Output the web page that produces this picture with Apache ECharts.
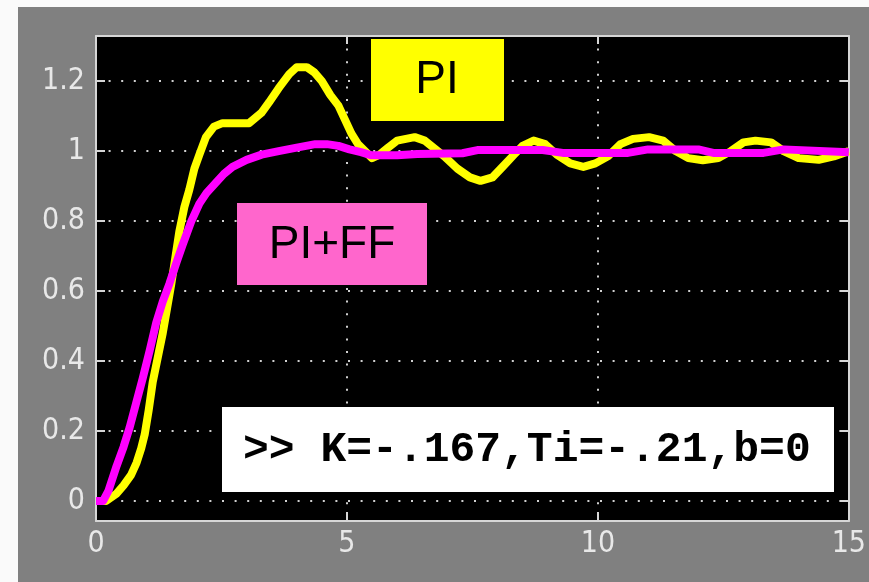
<!DOCTYPE html>
<html>
<head>
<meta charset="utf-8">
<script src="https://cdn.jsdelivr.net/npm/echarts@6/dist/echarts.min.js"></script>
<style>
html,body{margin:0;padding:0;background:#fafafa;width:869px;height:582px;overflow:hidden;}
#panel{position:absolute;left:18px;top:7px;width:851px;height:575px;background:#808080;}
</style>
</head>
<body>
<div id="panel"></div>
<script>
// x (time) ticks and y ticks
const xTicks = [0, 5, 10, 15];
const yTicks = [0, 0.2, 0.4, 0.6, 0.8, 1, 1.2];

// PI response (yellow)
const piTime  = [0, 0.2, 0.4, 0.55, 0.7, 0.81, 0.9, 0.97, 1.05, 1.13, 1.23, 1.33, 1.5, 1.66, 1.76, 1.86, 1.96, 2.06, 2.19, 2.35, 2.52, 3.05, 3.3, 3.45, 3.64, 3.85, 4.0, 4.2, 4.35, 4.5, 4.67, 4.83, 4.96, 5.09, 5.22, 5.36, 5.5, 5.65, 5.82, 6.0, 6.35, 6.55, 6.81, 6.94, 7.2, 7.45, 7.66, 7.9, 8.1, 8.33, 8.5, 8.72, 8.95, 9.18, 9.45, 9.71, 9.95, 10.2, 10.45, 10.7, 11.02, 11.3, 11.55, 11.8, 12.09, 12.4, 12.65, 12.9, 13.14, 13.45, 13.7, 14.0, 14.4, 14.7, 15.0];
const piValue = [0, 0, 0.02, 0.045, 0.075, 0.11, 0.15, 0.19, 0.26, 0.34, 0.41, 0.48, 0.62, 0.77, 0.84, 0.89, 0.95, 0.99, 1.04, 1.07, 1.08, 1.08, 1.11, 1.14, 1.18, 1.22, 1.24, 1.24, 1.225, 1.2, 1.16, 1.13, 1.09, 1.05, 1.02, 1.0, 0.98, 0.99, 1.01, 1.03, 1.04, 1.03, 1.0, 0.985, 0.95, 0.925, 0.915, 0.925, 0.955, 0.99, 1.015, 1.03, 1.02, 0.99, 0.965, 0.955, 0.965, 0.985, 1.02, 1.035, 1.04, 1.03, 1.0, 0.98, 0.974, 0.98, 1.0, 1.025, 1.03, 1.025, 1.0, 0.98, 0.975, 0.985, 1.0];

// PI+FF response (magenta)
const ffTime  = [0, 0.14, 0.25, 0.41, 0.55, 0.67, 0.8, 0.93, 1.07, 1.2, 1.33, 1.46, 1.6, 1.72, 1.9, 2.06, 2.2, 2.39, 2.55, 2.72, 3.0, 3.3, 3.64, 4.0, 4.37, 4.6, 4.83, 5.05, 5.28, 5.49, 6.0, 6.4, 7.3, 7.6, 8.9, 9.3, 10.6, 11.0, 12.0, 12.3, 13.3, 13.7, 15.0];
const ffValue = [0, 0, 0.03, 0.10, 0.155, 0.21, 0.28, 0.35, 0.43, 0.51, 0.57, 0.62, 0.68, 0.73, 0.80, 0.85, 0.88, 0.91, 0.935, 0.955, 0.975, 0.99, 1.0, 1.01, 1.02, 1.02, 1.015, 1.005, 0.997, 0.988, 0.988, 0.992, 0.994, 1.003, 1.003, 0.995, 0.995, 1.005, 1.005, 0.995, 0.995, 1.005, 0.997];

const piData = piTime.map((t, i) => [t, piValue[i]]);
const ffData = ffTime.map((t, i) => [t, ffValue[i]]);

const frame = '#d6d6d6';
const labelFont = "'DejaVu Sans Condensed', 'Liberation Sans Narrow', 'DejaVu Sans', sans-serif";

const chart = echarts.init(document.getElementById('panel'), null, {renderer: 'canvas'});
chart.setOption({
  animation: false,
  backgroundColor: '#808080',
  grid: {left: 78, top: 29, width: 758, height: 485, show: true, backgroundColor: '#000', borderWidth: 0},
  xAxis: [
    {
      type: 'value', min: xTicks[0], max: xTicks[xTicks.length - 1], interval: 5, position: 'bottom',
      axisLine: {show: true, onZero: false, lineStyle: {color: frame, width: 2}},
      axisTick: {show: true, inside: true, length: 9, lineStyle: {color: frame, width: 2}},
      axisLabel: {color: '#e8e8e8', fontSize: 30, fontFamily: labelFont, margin: 8},
      splitLine: {show: true, lineStyle: {color: '#d0d0d0', width: 2, type: [2, 10.6]}}
    },
    {
      type: 'value', min: xTicks[0], max: xTicks[xTicks.length - 1], interval: 5, position: 'top',
      axisLine: {show: true, onZero: false, lineStyle: {color: frame, width: 2}},
      axisTick: {show: true, inside: true, length: 8, lineStyle: {color: frame, width: 2}},
      axisLabel: {show: false},
      splitLine: {show: false}
    }
  ],
  yAxis: [
    {
      type: 'value', min: -0.057, max: 1.329, splitNumber: 7, position: 'left',
      axisLine: {show: true, onZero: false, lineStyle: {color: frame, width: 2}},
      axisTick: {show: true, inside: true, length: 9, lineStyle: {color: frame, width: 2}},
      axisLabel: {color: '#e8e8e8', fontSize: 30, fontFamily: labelFont, margin: 11, showMinLabel: false, showMaxLabel: false,
        formatter: v => (yTicks.some(t => Math.abs(t - v) < 1e-6) ? String(+v.toFixed(1)) : '')},
      splitLine: {show: true, lineStyle: {color: '#d0d0d0', width: 2, type: [2, 10.6]}}
    },
    {
      type: 'value', min: -0.057, max: 1.329, splitNumber: 7, position: 'right',
      axisLine: {show: true, onZero: false, lineStyle: {color: frame, width: 2}},
      axisTick: {show: true, inside: true, length: 9, lineStyle: {color: frame, width: 2}},
      axisLabel: {show: false},
      splitLine: {show: false}
    }
  ],
  series: [
    {
      name: 'PI', type: 'line', data: piData, xAxisIndex: 0, yAxisIndex: 0,
      showSymbol: false, symbol: 'none', z: 3,
      lineStyle: {color: '#ffff00', width: 8, join: 'round'}
    },
    {
      name: 'PI+FF', type: 'line', data: ffData, xAxisIndex: 0, yAxisIndex: 0,
      showSymbol: false, symbol: 'none', z: 4,
      lineStyle: {color: '#ff00ff', width: 8, join: 'round'}
    }
  ],
  graphic: [
    {type: 'rect', left: 353, top: 32, z: 100, shape: {width: 133, height: 82}, style: {fill: '#ffff00'}},
    {type: 'text', x: 419, y: 73, z: 101, style: {text: 'PI', fill: '#000', font: "46px 'Liberation Sans', Arial, sans-serif", align: 'center', verticalAlign: 'middle'}},
    {type: 'rect', left: 219, top: 196, z: 100, shape: {width: 190, height: 82}, style: {fill: '#ff66cc'}},
    {type: 'text', x: 314, y: 238, z: 101, style: {text: 'PI+FF', fill: '#000', font: "46px 'Liberation Sans', Arial, sans-serif", align: 'center', verticalAlign: 'middle'}},
    {type: 'rect', left: 204, top: 400, z: 100, shape: {width: 612, height: 85}, style: {fill: '#ffffff'}},
    {type: 'text', x: 225, y: 443, z: 101, style: {text: '>> K=-.167,Ti=-.21,b=0', fill: '#000', font: "bold 43px 'Liberation Mono', 'Courier New', monospace", align: 'left', verticalAlign: 'middle'}}
  ]
});
</script>
</body>
</html>
